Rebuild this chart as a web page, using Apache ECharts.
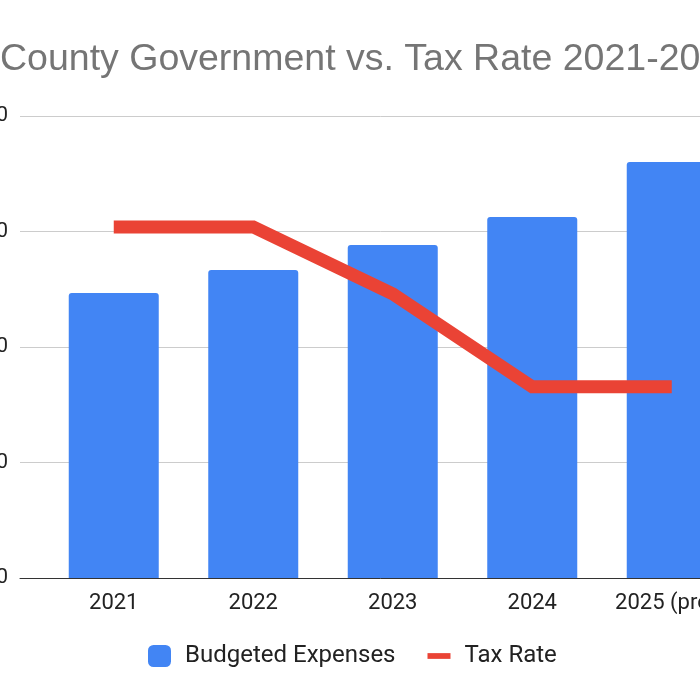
<!DOCTYPE html>
<html>
<head>
<meta charset="utf-8">
<script src="https://cdn.jsdelivr.net/npm/echarts@6/dist/echarts.min.js"></script>
<style>
  html, body { margin: 0; padding: 0; width: 700px; height: 700px; overflow: hidden; background: #fff; }
  /* the source picture is a crop of a wider chart, so the canvas is shifted left */
  #chart { position: absolute; left: -60px; top: 0; width: 900px; height: 700px; }
</style>
</head>
<body>
<div id="chart"></div>
<script>
const categories = ['2021', '2022', '2023', '2024', '2025 (proj.)'];
// budgeted expenses, millions of dollars
const budgetedExpenses = [123.4, 133.3, 144.2, 156.3, 180.1];
// tax rate per $100
const taxRate = [0.608, 0.608, 0.492, 0.331, 0.331];
const expenseTicks = [0, 50, 100, 150, 200];
const rateTicks = [0, 0.2, 0.4, 0.6, 0.8];

const FONT = 'Roboto, "Liberation Sans", sans-serif';

const chart = echarts.init(document.getElementById('chart'), null, { renderer: 'canvas' });

const gridTop = 116;
const gridHeight = 462;

chart.setOption({
  animation: false,
  backgroundColor: '#ffffff',
  title: {
    text: 'County Government vs. Tax Rate 2021-2025',
    left: 55,
    top: 36,
    textStyle: {
      fontFamily: '"Liberation Sans", Arial, sans-serif',
      fontSize: 37.5,
      fontWeight: 'normal',
      color: '#757575',
    },
  },
  legend: {
    left: 203,
    top: 639,
    itemWidth: 23,
    itemHeight: 22,
    itemGap: 32,
    textStyle: {
      fontFamily: FONT,
      fontSize: 24,
      color: '#222222',
      padding: [0, 0, 0, 9],
    },
    data: [
      { name: 'Budgeted Expenses', icon: 'roundRect' },
      { name: 'Tax Rate', icon: 'path://M0,0 L24,0 L24,6 L0,6 Z' },
    ],
  },
  grid: [
    // gridlines + baseline (labels run off the left edge on purpose)
    { left: 80, top: gridTop, width: 721.5, height: gridHeight, containLabel: false, outerBoundsMode: 'none' },
    // categories, bars and line
    { left: 104, top: gridTop, width: 697.5, height: gridHeight, containLabel: false, outerBoundsMode: 'none' },
  ],
  xAxis: [
    {
      type: 'category',
      gridIndex: 0,
      data: [''],
      axisLine: { show: true, lineStyle: { color: '#333333', width: 1 } },
      axisTick: { show: false },
      axisLabel: { show: false },
    },
    {
      type: 'category',
      gridIndex: 1,
      data: categories,
      axisLine: { show: false },
      axisTick: { show: false },
      axisLabel: {
        margin: 14,
        interval: 0,
        fontFamily: FONT,
        fontSize: 22,
        color: '#222222',
      },
    },
  ],
  yAxis: [
    {
      type: 'value',
      gridIndex: 0,
      min: expenseTicks[0],
      max: expenseTicks[expenseTicks.length - 1],
      interval: expenseTicks[1] - expenseTicks[0],
      axisLine: { show: false },
      axisTick: { show: false },
      splitLine: { lineStyle: { color: '#cccccc', width: 1 } },
      axisLabel: {
        margin: 12,
        fontFamily: FONT,
        fontSize: 21,
        color: '#222222',
        formatter: (v) => '$' + (v * 1000000).toLocaleString('en-US'),
      },
    },
    {
      type: 'value',
      gridIndex: 1,
      min: expenseTicks[0],
      max: expenseTicks[expenseTicks.length - 1],
      interval: expenseTicks[1] - expenseTicks[0],
      show: false,
    },
    {
      type: 'value',
      gridIndex: 1,
      position: 'right',
      min: rateTicks[0],
      max: rateTicks[rateTicks.length - 1],
      interval: rateTicks[1] - rateTicks[0],
      axisLine: { show: false },
      axisTick: { show: false },
      splitLine: { show: false },
      axisLabel: {
        fontFamily: FONT,
        fontSize: 21,
        color: '#222222',
        formatter: (v) => v.toFixed(1),
      },
    },
  ],
  series: [
    {
      name: 'Budgeted Expenses',
      type: 'bar',
      xAxisIndex: 1,
      yAxisIndex: 1,
      data: budgetedExpenses,
      barWidth: 90,
      itemStyle: { color: '#4285f4', borderRadius: [3, 3, 0, 0] },
    },
    {
      name: 'Tax Rate',
      type: 'line',
      xAxisIndex: 1,
      yAxisIndex: 2,
      data: taxRate,
      symbol: 'none',
      lineStyle: { color: '#ea4335', width: 13, join: 'miter' },
      itemStyle: { color: '#ea4335' },
    },
  ],
});
</script>
</body>
</html>
